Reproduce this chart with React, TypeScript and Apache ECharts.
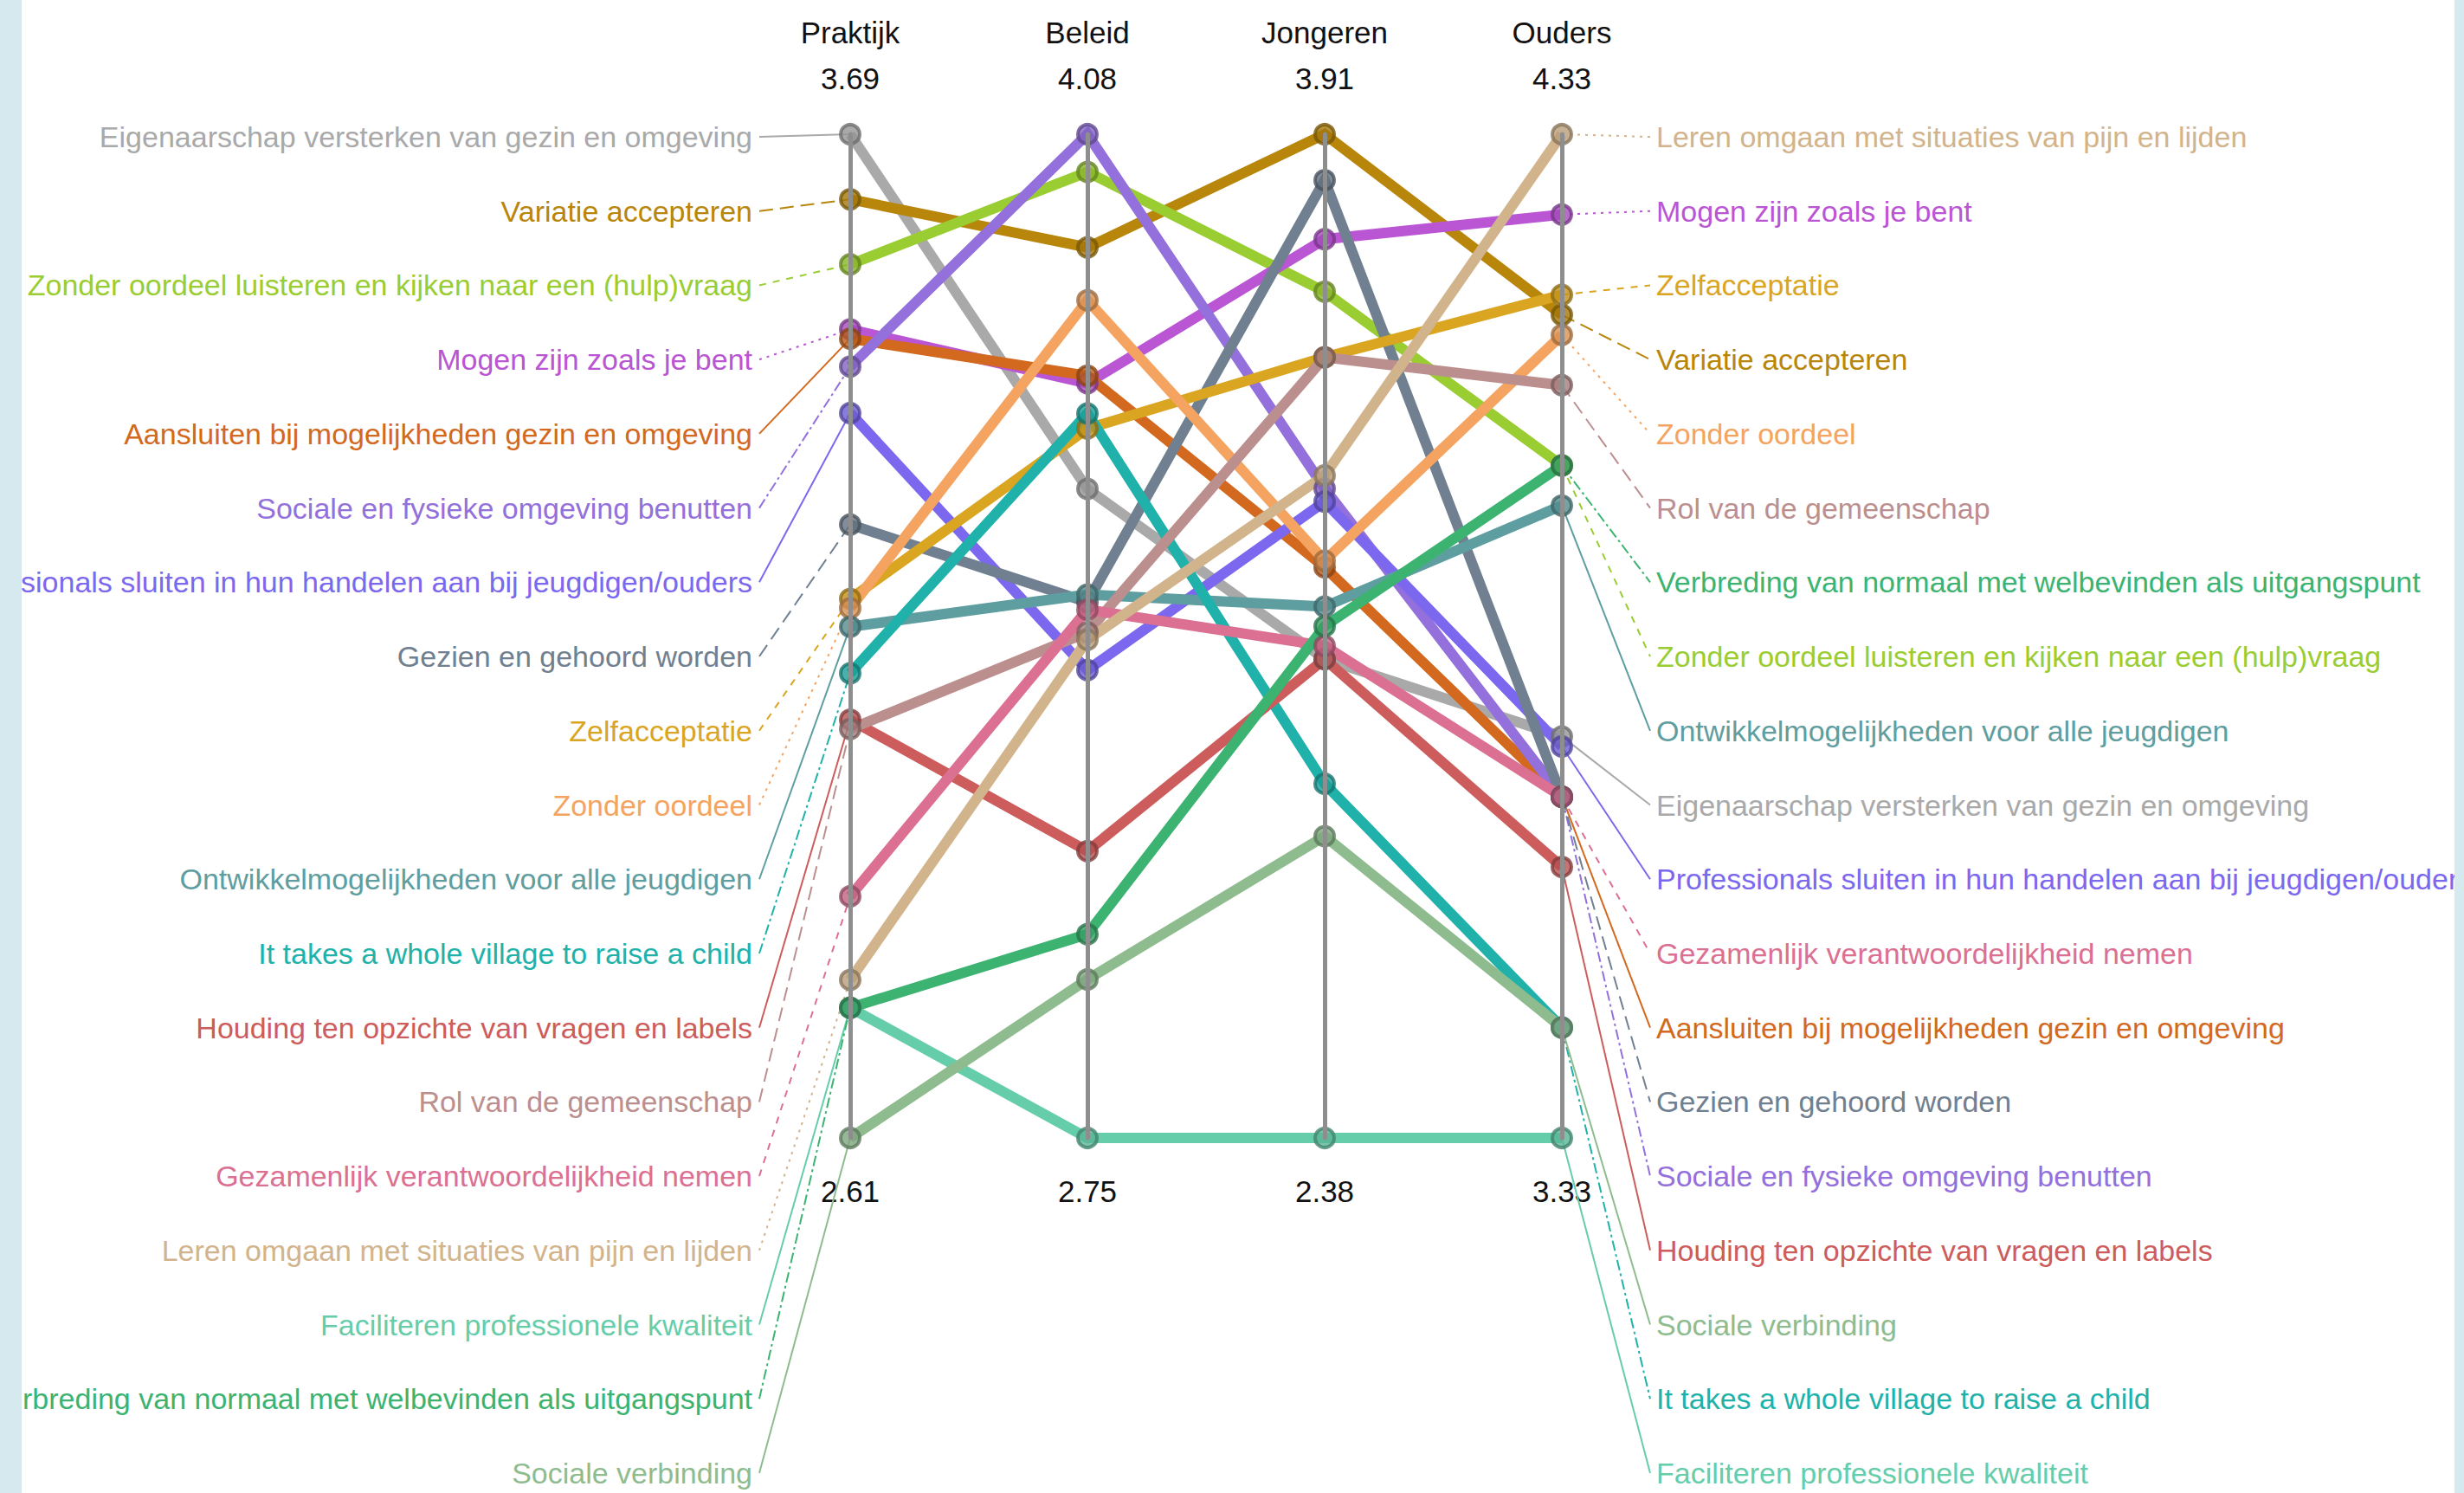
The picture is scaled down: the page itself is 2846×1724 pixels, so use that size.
import React, { useEffect, useRef } from 'react';
import * as echarts from 'echarts';

// ---------- data ----------
const axisNames = ['Praktijk', 'Beleid', 'Jongeren', 'Ouders'];
const axisMax = [3.69, 4.08, 3.91, 4.33];
const axisMin = [2.61, 2.75, 2.38, 3.33];

const items = [
  'Eigenaarschap versterken van gezin en omgeving',
  'Variatie accepteren',
  'Zonder oordeel luisteren en kijken naar een (hulp)vraag',
  'Mogen zijn zoals je bent',
  'Aansluiten bij mogelijkheden gezin en omgeving',
  'Sociale en fysieke omgeving benutten',
  'Professionals sluiten in hun handelen aan bij jeugdigen/ouders',
  'Gezien en gehoord worden',
  'Zelfacceptatie',
  'Zonder oordeel',
  'Ontwikkelmogelijkheden voor alle jeugdigen',
  'It takes a whole village to raise a child',
  'Houding ten opzichte van vragen en labels',
  'Rol van de gemeenschap',
  'Gezamenlijk verantwoordelijkheid nemen',
  'Leren omgaan met situaties van pijn en lijden',
  'Faciliteren professionele kwaliteit',
  'Verbreding van normaal met welbevinden als uitgangspunt',
  'Sociale verbinding',
];

const praktijk = [3.69, 3.62, 3.55, 3.48, 3.47, 3.44, 3.39, 3.27, 3.19, 3.18, 3.16, 3.11, 3.06, 3.05, 2.87, 2.78, 2.75, 2.75, 2.61];
const beleid = [3.61, 3.93, 4.03, 3.75, 3.76, 4.08, 3.37, 3.46, 3.69, 3.86, 3.47, 3.71, 3.13, 3.42, 3.45, 3.41, 2.75, 3.02, 2.96];
const jongeren = [3.11, 3.91, 3.67, 3.75, 3.25, 3.37, 3.35, 3.84, 3.57, 3.26, 3.19, 2.92, 3.11, 3.57, 3.13, 3.39, 2.38, 3.16, 2.84];
const ouders = [3.73, 4.15, 4.0, 4.25, 3.67, 3.67, 3.72, 3.67, 4.17, 4.13, 3.96, 3.44, 3.6, 4.08, 3.67, 4.33, 3.33, 4.0, 3.44];

const leftOrder = [
  'Eigenaarschap versterken van gezin en omgeving',
  'Variatie accepteren',
  'Zonder oordeel luisteren en kijken naar een (hulp)vraag',
  'Mogen zijn zoals je bent',
  'Aansluiten bij mogelijkheden gezin en omgeving',
  'Sociale en fysieke omgeving benutten',
  'Professionals sluiten in hun handelen aan bij jeugdigen/ouders',
  'Gezien en gehoord worden',
  'Zelfacceptatie',
  'Zonder oordeel',
  'Ontwikkelmogelijkheden voor alle jeugdigen',
  'It takes a whole village to raise a child',
  'Houding ten opzichte van vragen en labels',
  'Rol van de gemeenschap',
  'Gezamenlijk verantwoordelijkheid nemen',
  'Leren omgaan met situaties van pijn en lijden',
  'Faciliteren professionele kwaliteit',
  'Verbreding van normaal met welbevinden als uitgangspunt',
  'Sociale verbinding',
];

const rightOrder = [
  'Leren omgaan met situaties van pijn en lijden',
  'Mogen zijn zoals je bent',
  'Zelfacceptatie',
  'Variatie accepteren',
  'Zonder oordeel',
  'Rol van de gemeenschap',
  'Verbreding van normaal met welbevinden als uitgangspunt',
  'Zonder oordeel luisteren en kijken naar een (hulp)vraag',
  'Ontwikkelmogelijkheden voor alle jeugdigen',
  'Eigenaarschap versterken van gezin en omgeving',
  'Professionals sluiten in hun handelen aan bij jeugdigen/ouders',
  'Gezamenlijk verantwoordelijkheid nemen',
  'Aansluiten bij mogelijkheden gezin en omgeving',
  'Gezien en gehoord worden',
  'Sociale en fysieke omgeving benutten',
  'Houding ten opzichte van vragen en labels',
  'Sociale verbinding',
  'It takes a whole village to raise a child',
  'Faciliteren professionele kwaliteit',
];

// ---------- styles ----------
const colors = [
  '#A9A9A9', '#B8860B', '#9ACD32', '#BA55D3', '#D2691E', '#9370DB', '#7B68EE', '#708090',
  '#DAA520', '#F4A460', '#5F9EA0', '#20B2AA', '#CD5C5C', '#BC8F8F', '#DB7093', '#D2B48C',
  '#66CDAA', '#3CB371', '#8FBC8F',
];
const dashCycle: any[] = [null, [16, 8], [8, 8], [3, 6], null, [12, 4, 3, 4]];

const FONT = "'Liberation Sans', Arial, Helvetica, sans-serif";
const LABEL_SIZE = 34;
const HEAD_SIZE = 35;
const W = 2846;
const H = 1724;
const PL = 982;
const PR = 1804;
const TOP = 155;
const BOT = 1314;
const LBL_TOP = 158;
const LBL_BOT = 1701;
const LEFT_LEADER_X = 877;
const RIGHT_LEADER_X = 1906;

function shade(hex: string, f: number) {
  const n = parseInt(hex.slice(1), 16);
  const r = Math.round(((n >> 16) & 255) * (1 - f));
  const g = Math.round(((n >> 8) & 255) * (1 - f));
  const b = Math.round((n & 255) * (1 - f));
  return `rgb(${r},${g},${b})`;
}

export default function App() {
  const ref = useRef<HTMLDivElement>(null);

  useEffect(() => {
    if (!ref.current) return;
    const chart = echarts.init(ref.current, undefined, { renderer: 'svg' });
    const values = [praktijk, beleid, jongeren, ouders];
    const colorOf = (n: string) => colors[items.indexOf(n)];
    const step = (PR - PL) / (axisNames.length - 1);

    const grids: any[] = [];
    const xAxes: any[] = [];
    const yAxes: any[] = [];
    axisNames.forEach((_, k) => {
      const cx = PL + step * k;
      grids.push({ left: cx - 50, width: 100, top: TOP, height: BOT - TOP, outerBoundsMode: 'none', containLabel: false });
      xAxes.push({
        gridIndex: k,
        type: 'category',
        data: [axisMin[k].toFixed(2)],
        boundaryGap: true,
        axisLine: { show: false },
        axisTick: { show: false },
        splitLine: { show: false },
        axisLabel: { fontSize: HEAD_SIZE, color: '#111', margin: 44, fontFamily: FONT },
      });
      yAxes.push({ gridIndex: k, type: 'value', min: axisMin[k], max: axisMax[k], show: false });
    });
    // left label grid (index 4)
    grids.push({
      left: LEFT_LEADER_X, width: 60, top: LBL_TOP, height: LBL_BOT - LBL_TOP,
      outerBoundsMode: 'none', containLabel: false,
    });
    xAxes.push({ gridIndex: 4, type: 'value', min: 0, max: 1, show: false });
    yAxes.push({
      gridIndex: 4,
      type: 'category',
      inverse: true,
      boundaryGap: false,
      position: 'left',
      data: leftOrder.map((n) => ({ value: n, textStyle: { color: colorOf(n) } })),
      axisLine: { show: false, onZero: false },
      axisTick: { show: false },
      splitLine: { show: false },
      axisLabel: { interval: 0, margin: 8, fontSize: LABEL_SIZE, fontFamily: FONT },
    });
    // right label grid (index 5)
    grids.push({
      left: RIGHT_LEADER_X - 60, width: 60, top: LBL_TOP, height: LBL_BOT - LBL_TOP,
      outerBoundsMode: 'none', containLabel: false,
    });
    xAxes.push({ gridIndex: 5, type: 'value', min: 0, max: 1, show: false });
    yAxes.push({
      gridIndex: 5,
      type: 'category',
      inverse: true,
      boundaryGap: false,
      position: 'right',
      data: rightOrder.map((n) => ({ value: n, textStyle: { color: colorOf(n) } })),
      axisLine: { show: false, onZero: false },
      axisTick: { show: false },
      splitLine: { show: false },
      axisLabel: { interval: 0, margin: 7, fontSize: LABEL_SIZE, fontFamily: FONT },
    });

    const option: any = {
      animation: false,
      backgroundColor: '#ffffff',
      textStyle: { fontFamily: FONT },
      parallel: {
        left: PL,
        right: W - PR,
        top: TOP,
        bottom: H - BOT,
        layout: 'horizontal',
      },
      parallelAxis: axisNames.map((n, k) => ({
        dim: k,
        type: 'value',
        name: n + '\n' + axisMax[k].toFixed(2),
        nameLocation: 'end',
        nameGap: 38,
        nameTextStyle: { fontSize: HEAD_SIZE, lineHeight: 53, color: '#111', fontFamily: FONT },
        min: axisMin[k],
        max: axisMax[k],
        axisLine: { show: true, lineStyle: { color: '#8e8e8e', width: 5 } },
        axisTick: { show: false },
        axisLabel: { show: false, formatter: () => '', color: 'rgba(0,0,0,0)' },
        splitLine: { show: false },
      })),
      grid: grids,
      xAxis: xAxes,
      yAxis: yAxes,
      series: [
        {
          type: 'parallel',
          silent: true,
          z: 3,
          lineStyle: { width: 12, opacity: 1 },
          data: items.map((n, i) => ({
            name: n,
            value: values.map((a) => a[i]),
            lineStyle: { color: colors[i], width: 12, opacity: 1 },
          })),
        },
        ...axisNames.map((_, k) => ({
          type: 'scatter',
          xAxisIndex: k,
          yAxisIndex: k,
          symbol: 'circle',
          symbolSize: 22,
          z: 5,
          silent: true,
          data: items.map((n, i) => ({
            name: n,
            value: [0, values[k][i]],
            itemStyle: { color: shade(colors[i], 0.12), borderColor: shade(colors[i], 0.35), borderWidth: 4 },
          })),
        })),
      ],
    };
    chart.setOption(option);

    // leader lines from the labels to the points, positions from the library's scales
    const els: any[] = [];
    items.forEach((n, i) => {
      const dash = dashCycle[i % dashCycle.length];
      const li = leftOrder.indexOf(n);
      const ly = chart.convertToPixel({ yAxisIndex: 4 } as any, li as any) as any as number;
      const lp = chart.convertToPixel({ gridIndex: 0 } as any, [0, praktijk[i]]) as any as number[];
      els.push({
        type: 'line',
        z: 1,
        silent: true,
        shape: { x1: LEFT_LEADER_X, y1: ly, x2: lp[0], y2: lp[1] },
        style: { stroke: colors[i], lineWidth: 2, lineDash: dash },
      });
      const ri = rightOrder.indexOf(n);
      const ry = chart.convertToPixel({ yAxisIndex: 5 } as any, ri as any) as any as number;
      const rp = chart.convertToPixel({ gridIndex: 3 } as any, [0, ouders[i]]) as any as number[];
      els.push({
        type: 'line',
        z: 1,
        silent: true,
        shape: { x1: rp[0], y1: rp[1], x2: RIGHT_LEADER_X, y2: ry },
        style: { stroke: colors[i], lineWidth: 2, lineDash: dash },
      });
    });
    els.push({ type: 'rect', z: 100, silent: true, shape: { x: 0, y: 0, width: 25, height: H }, style: { fill: '#d5e9ef' } });
    els.push({ type: 'rect', z: 100, silent: true, shape: { x: W - 11, y: 0, width: 11, height: H }, style: { fill: '#d5e9ef' } });
    chart.setOption({ graphic: { elements: els } });

    return () => chart.dispose();
  }, []);

  return (
    <div
      ref={ref}
      style={{ position: 'fixed', left: 0, top: 0, width: W + 'px', height: H + 'px', background: '#fff' }}
    />
  );
}
